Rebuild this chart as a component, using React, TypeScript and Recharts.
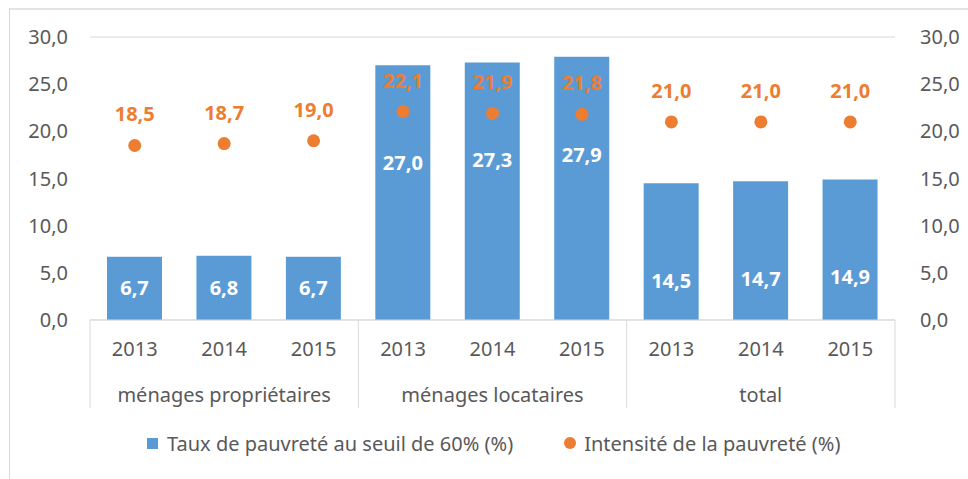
import React from 'react'
import { ComposedChart, Bar, Line, XAxis, YAxis, CartesianGrid, LabelList, Legend } from 'recharts'

const years = ['2013', '2014', '2015', '2013', '2014', '2015', '2013', '2014', '2015']
const groups = ['ménages propriétaires', 'ménages locataires', 'total']
const tauxPauvrete = [6.7, 6.8, 6.7, 27.0, 27.3, 27.9, 14.5, 14.7, 14.9]
const intensitePauvrete = [18.5, 18.7, 19.0, 22.1, 21.9, 21.8, 21.0, 21.0, 21.0]
const yTicks = [0, 5, 10, 15, 20, 25, 30]

const BLUE = '#5B9BD5'
const ORANGE = '#ED7D31'
const GREY = '#595959'
const FONT = '"Noto Sans", sans-serif'
const FS = 20

// plot box, used for the axis separators
const PLOT_LEFT = 90
const PLOT_RIGHT = 895
const PLOT_BOTTOM = 320
const BAND = (PLOT_RIGHT - PLOT_LEFT) / years.length

const data = years.map((y, i) => ({
    id: `c${i}`,
    year: y,
    group: groups[Math.floor(i / 3)],
    taux: tauxPauvrete[i],
    intensite: intensitePauvrete[i],
}))

const fmt = (v: number) => v.toFixed(1).replace('.', ',')

const GroupTick = (props: any) => {
    const { x, index } = props
    const i = index as number
    const lines: React.ReactNode[] = []
    if (i % 3 === 0) {
        const lx = x - BAND / 2
        lines.push(<line key="l" x1={lx} x2={lx} y1={PLOT_BOTTOM} y2={PLOT_BOTTOM + 88} stroke="#d9d9d9" />)
    }
    if (i === years.length - 1) {
        const rx = x + BAND / 2
        lines.push(<line key="r" x1={rx} x2={rx} y1={PLOT_BOTTOM} y2={PLOT_BOTTOM + 88} stroke="#d9d9d9" />)
    }
    return (
        <g>
            {lines}
            {i % 3 === 1 && (
                <text x={x} y={PLOT_BOTTOM + 82} textAnchor="middle" fill={GREY} fontSize={FS} fontFamily={FONT}>
                    {groups[Math.floor(i / 3)]}
                </text>
            )}
        </g>
    )
}

const BarValueLabel = (props: any) => {
    const { x, y, width, height, value } = props
    // tall bars carry their label a fixed distance under the top
    const cy = height > 120 ? y + 98 : y + height / 2
    return (
        <text x={x + width / 2} y={cy} dy={7} textAnchor="middle" fill="#fff" fontSize={FS} fontWeight="bold" fontFamily={FONT}>
            {fmt(value)}
        </text>
    )
}

const DotValueLabel = (props: any) => {
    const { x, y, value } = props
    return (
        <text x={x} y={y - 31} dy={7} textAnchor="middle" fill={ORANGE} fontSize={FS} fontWeight="bold" fontFamily={FONT}>
            {fmt(value)}
        </text>
    )
}

const LegendContent = () => (
    <div style={{ display: 'flex', alignItems: 'center', paddingLeft: 147, fontFamily: FONT, fontSize: FS, color: GREY, height: 30 }}>
        <span style={{ width: 11, height: 11, background: BLUE, display: 'inline-block', marginRight: 9 }} />
        <span>Taux de pauvreté au seuil de 60% (%)</span>
        <span style={{ width: 12, height: 12, borderRadius: 6, background: ORANGE, display: 'inline-block', marginLeft: 51, marginRight: 8 }} />
        <span>Intensité de la pauvreté (%)</span>
    </div>
)

const App: React.FC = () => {
    return (
        <div style={{ position: 'absolute', left: 0, top: 0, width: 968, height: 479, background: '#fff', overflow: 'hidden' }}>
            <div style={{ position: 'absolute', left: 9, top: 8, width: 970, height: 480, borderTop: '2px solid #e3e3e3', borderLeft: '1px solid #d9d9d9' }} />
            <ComposedChart
                width={968}
                height={479}
                data={data}
                margin={{ top: 37, right: 10, bottom: 41, left: 10 }}
                barCategoryGap="19%"
            >
                <CartesianGrid vertical={false} stroke="#d9d9d9" />
                <XAxis
                    dataKey="id"
                    interval={0}
                    tickFormatter={(v: string) => years[Number(v.slice(1))]}
                    tick={{ fill: GREY, fontSize: FS, fontFamily: FONT }}
                    tickLine={false}
                    tickSize={0}
                    tickMargin={22}
                    axisLine={{ stroke: '#d9d9d9' }}
                    height={44}
                />
                <XAxis
                    xAxisId="groups"
                    dataKey="id"
                    interval={0}
                    tick={<GroupTick />}
                    tickLine={false}
                    axisLine={false}
                    height={44}
                />
                <YAxis
                    yAxisId="left"
                    domain={[0, 30]}
                    ticks={yTicks}
                    tickFormatter={fmt}
                    tick={{ fill: GREY, fontSize: FS, fontFamily: FONT }}
                    axisLine={false}
                    tickLine={false}
                    tickSize={0}
                    tickMargin={22}
                    width={80}
                />
                <YAxis
                    yAxisId="right"
                    orientation="right"
                    domain={[0, 30]}
                    ticks={yTicks}
                    tickFormatter={fmt}
                    tick={{ fill: GREY, fontSize: FS, fontFamily: FONT, textAnchor: 'start' }}
                    axisLine={false}
                    tickLine={false}
                    tickSize={0}
                    tickMargin={25}
                    width={63}
                />
                <Legend content={<LegendContent />} wrapperStyle={{ top: 428, left: 0, width: 968 }} />
                <Bar yAxisId="left" dataKey="taux" name="Taux de pauvreté au seuil de 60% (%)" fill={BLUE} isAnimationActive={false}>
                    <LabelList dataKey="taux" content={<BarValueLabel />} />
                </Bar>
                <Line
                    yAxisId="right"
                    dataKey="intensite"
                    name="Intensité de la pauvreté (%)"
                    stroke="none"
                    dot={{ r: 6.5, fill: ORANGE, stroke: 'none' }}
                    activeDot={false}
                    isAnimationActive={false}
                >
                    <LabelList dataKey="intensite" content={<DotValueLabel />} />
                </Line>
            </ComposedChart>
        </div>
    )
}

export default App
